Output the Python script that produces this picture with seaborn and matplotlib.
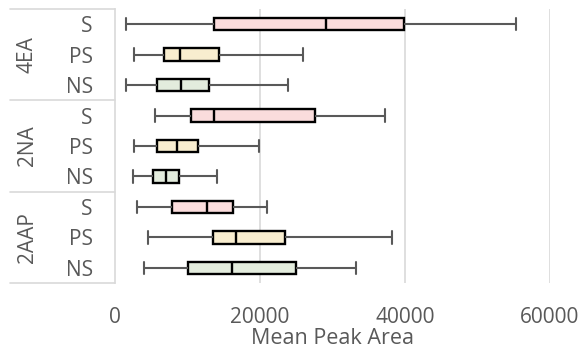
import numpy as np
import pandas as pd
import matplotlib
matplotlib.use("Agg")
import matplotlib.pyplot as plt
import seaborn as sns
from matplotlib.lines import Line2D

groups = ["4EA", "2NA", "2AAP"]
types = ["S", "PS", "NS"]
# five-number summaries per (group, type): min, Q1, median, Q3, max
stats_min = [1500, 2600, 1500, 5500, 2600, 2500, 3000, 4600, 4000]
stats_q1 = [13600, 6700, 5800, 10500, 5800, 5300, 7900, 13500, 10000]
stats_med = [29100, 9000, 9100, 13700, 8600, 7000, 12700, 16700, 16200]
stats_q3 = [39800, 14300, 13000, 27600, 11500, 8800, 16300, 23400, 25000]
stats_max = [55300, 25900, 23800, 37300, 19800, 14100, 20900, 38200, 33300]

colors = {"S": "#FFD7D7", "PS": "#FFF0C8", "NS": "#E2EFDA"}
text_color = "#595959"
grid_color = "#D9D9D9"

rows = []
k = 0
order = []
for g in groups:
    for t in types:
        key = f"{g}|{t}"
        order.append(key)
        for v in (stats_min[k], stats_q1[k], stats_med[k], stats_q3[k], stats_max[k]):
            rows.append({"row": key, "type": t, "value": v})
        k += 1
df = pd.DataFrame(rows)

sns.set_theme(style="white")
plt.rcParams["font.family"] = ["Open Sans", "DejaVu Sans"]

fig = plt.figure(figsize=(5.87, 3.53), dpi=100)
W, H = 587, 353
ax = fig.add_axes([115 / W, 1 - 283 / H, 435 / W, 274 / H])

sns.boxplot(data=df, x="value", y="row", hue="type", order=order,
            hue_order=types, palette=colors, dodge=False, width=0.41,
            whis=np.inf, orient="h", ax=ax, legend=False,
            linecolor="black", linewidth=1.7,
            whiskerprops=dict(color="#595959", linewidth=1.5),
            capprops=dict(color="#595959", linewidth=1.5),
            medianprops=dict(color="black", linewidth=1.7),
            capwidths=0.41)

ax.set_xlim(0, 60000)
ax.set_ylim(8.5, -0.5)
ax.set_xticks([0, 20000, 40000, 60000])
ax.set_xticklabels(["0", "20000", "40000", "60000"])
ax.set_yticks(range(9))
ax.set_yticklabels(types * 3)
ax.tick_params(axis="both", length=0, labelsize=15, colors=text_color)
ax.tick_params(axis="y", pad=16)
ax.tick_params(axis="x", pad=17)
ax.set_ylabel("")
ax.set_xlabel("Mean Peak Area", fontsize=15.5, color=text_color, labelpad=0)

for x in [20000, 40000, 60000]:
    ax.axvline(x, color=grid_color, linewidth=1.2, zorder=0)

for s in ["top", "right", "bottom"]:
    ax.spines[s].set_visible(False)
ax.spines["left"].set_color(grid_color)
ax.spines["left"].set_linewidth(1.2)

trans = matplotlib.transforms.blended_transform_factory(ax.transAxes, ax.transData)
x0 = (10 - 115) / 435
for yb in [-0.5, 2.5, 5.5, 8.5]:
    ax.add_line(Line2D([x0, 0], [yb, yb], transform=trans, color=grid_color,
                       linewidth=1.2, clip_on=False))
gx = (27 - 115) / 435
for i, g in enumerate(groups):
    ax.text(gx, 3 * i + 1, g, transform=trans, rotation=90, ha="center",
            va="center", fontsize=15, color=text_color)

fig.savefig("out.png", dpi=100)
